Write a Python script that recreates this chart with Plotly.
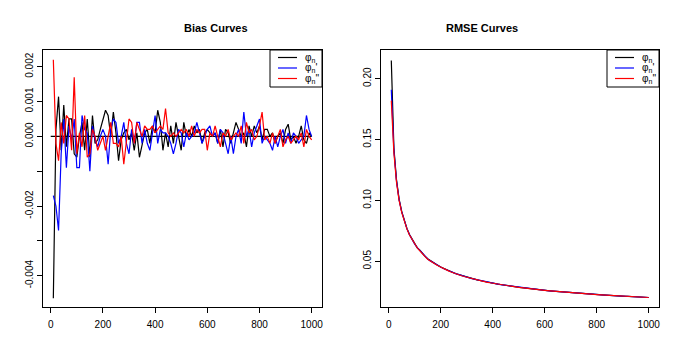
import plotly.graph_objects as go

# Sample sizes (n = 10, 20, ..., 1000)
n_vals = list(range(10, 1001, 10))

# Bias of the three estimators
bias_phi = [
    -0.00465, 0.0002, 0.00114, -0.0004, 0.0009, -0.0003, 0.0005, 0.0005, -0.0005, -0.0006,
    0.0000, 0.0004, -0.0004, 0.0005, -0.0006, 0.0006, -0.0002, -0.0001, 0.0002, 0.0005,
    0.00075, 0.0006, 0.0000, 0.0007, 0.0001, -0.0007, -0.0001, 0.0001, 0.0002, -0.0001,
    0.0001, -0.0004, 0.0001, -0.0006, -0.0002, 0.0001, 0.0002, -0.0002, 0.0003, 0.0001,
    0.00075, 0.0004, -0.0004, 0.0001, -0.0003, 0.0003, -0.0002, 0.0004, 0.0000, -0.0004,
    0.0004, 0.0000, 0.0002, 0.0000, 0.0003, 0.0001, 0.0002, -0.0002, 0.0001, 0.0002,
    0.0001, 0.0000, 0.0001, -0.0002, 0.0002, -0.0003, 0.0002, 0.0001, -0.0002, 0.0001,
    0.0004, 0.0002, 0.0000, 0.0001, -0.0003, 0.0003, 0.0000, 0.0003, 0.0001, 0.0003,
    -0.0001, 0.0002, 0.0002, 0.0000, 0.0001, -0.0002, 0.0000, 0.0001, -0.0002, 0.0002,
    0.00035, -0.0001, 0.0000, -0.0002, 0.0000, 0.0003, -0.0001, -0.0002, 0.0001, 0.0000,
]
bias_phi1 = [
    -0.0017, -0.0020, -0.0027, -0.0005, 0.0005, -0.0009, 0.0003, -0.0001, 0.0005, -0.0009,
    -0.0009, 0.0006, 0.0002, 0.0001, -0.0010, 0.0003, -0.0001, -0.0003, 0.0000, 0.0002,
    0.0000, -0.0008, 0.0002, 0.0005, 0.0004, -0.0002, 0.0000, 0.0004, -0.0002, -0.0005,
    0.0002, -0.0002, 0.0004, 0.0004, -0.0002, 0.0002, -0.0002, -0.0004, 0.0001, 0.0006,
    -0.0002, 0.0002, 0.0001, 0.0001, 0.0000, -0.0002, -0.0005, -0.0002, 0.0002, 0.0001,
    -0.0003, 0.0001, -0.0001, 0.0000, 0.0001, 0.0004, 0.0001, -0.0002, 0.0000, 0.0002,
    0.0003, 0.0000, 0.0001, -0.0002, 0.0002, 0.0001, -0.0002, -0.0005, 0.0000, -0.0005,
    0.0000, 0.0002, -0.0002, 0.0007, 0.0000, 0.0002, -0.0003, 0.0001, 0.0003, 0.0005,
    -0.0002, 0.0000, -0.0001, -0.0002, -0.0004, 0.0000, -0.0003, 0.0000, 0.0002, -0.0002,
    0.0001, -0.0002, 0.0001, 0.0000, -0.0002, -0.0001, 0.0000, 0.0006, 0.0002, 0.0000,
]
bias_phi2 = [
    0.0022, -0.0002, -0.0007, 0.0004, -0.0002, 0.0006, 0.0005, -0.0004, 0.0017, -0.0005,
    0.0001, -0.0003, 0.0006, -0.0006, -0.0005, 0.0002, 0.0000, -0.0004, -0.0002, 0.0000,
    -0.0004, 0.0000, 0.0004, -0.0002, -0.0002, -0.0003, 0.0000, -0.0008, -0.0001, 0.0005,
    0.0004, -0.0002, 0.0004, 0.0002, 0.0000, 0.0003, 0.0002, 0.0002, 0.0003, 0.0001,
    0.0002, 0.0003, 0.0002, 0.0008, 0.0001, 0.0000, 0.0001, 0.0000, 0.0001, 0.0002,
    0.0001, 0.0002, 0.0000, 0.0003, 0.0000, 0.0002, 0.0001, 0.0002, 0.0002, -0.0004,
    0.0001, 0.0000, 0.0003, 0.0000, -0.0003, 0.0001, 0.0000, 0.0002, -0.0001, 0.0000,
    0.0001, 0.0000, 0.0003, -0.0002, 0.0004, 0.0001, 0.0002, -0.0001, 0.0000, 0.0003,
    0.0007, -0.0001, 0.0000, -0.0002, 0.0001, -0.0002, 0.0000, 0.0002, -0.0003, -0.0001,
    0.0000, -0.0002, -0.0001, 0.0000, -0.0001, 0.0001, -0.0003, 0.0002, 0.0000, -0.0001,
]

# RMSE of the three estimators
rmse_phi = [
    0.2150, 0.1430, 0.1170, 0.1010, 0.0910, 0.0830, 0.0770, 0.0720, 0.0680, 0.0640,
    0.0610, 0.0590, 0.0560, 0.0540, 0.0520, 0.0505, 0.0490, 0.0478, 0.0465, 0.0453,
    0.0442, 0.0432, 0.0422, 0.0413, 0.0405, 0.0397, 0.0390, 0.0383, 0.0376, 0.0370,
    0.0364, 0.0358, 0.0352, 0.0347, 0.0342, 0.0337, 0.0333, 0.0328, 0.0324, 0.0320,
    0.0316, 0.0312, 0.0309, 0.0305, 0.0302, 0.0298, 0.0295, 0.0292, 0.0289, 0.0286,
    0.0283, 0.0281, 0.0278, 0.0275, 0.0273, 0.0270, 0.0268, 0.0266, 0.0264, 0.0261,
    0.0259, 0.0257, 0.0255, 0.0253, 0.0251, 0.0249, 0.0247, 0.0245, 0.0244, 0.0242,
    0.0240, 0.0239, 0.0237, 0.0235, 0.0234, 0.0232, 0.0231, 0.0229, 0.0228, 0.0226,
    0.0225, 0.0224, 0.0222, 0.0221, 0.0220, 0.0218, 0.0217, 0.0216, 0.0215, 0.0213,
    0.0212, 0.0211, 0.0210, 0.0209, 0.0208, 0.0207, 0.0206, 0.0205, 0.0204, 0.0202,
]
rmse_phi1 = [
    0.1910, 0.1410, 0.1160, 0.1005, 0.0905, 0.0828, 0.0768, 0.0718, 0.0678, 0.0641,
    0.0612, 0.0588, 0.0562, 0.0541, 0.0519, 0.0503, 0.0489, 0.0476, 0.0464, 0.0452,
    0.0441, 0.0431, 0.0423, 0.0413, 0.0404, 0.0396, 0.0390, 0.0382, 0.0376, 0.0369,
    0.0363, 0.0357, 0.0352, 0.0347, 0.0341, 0.0337, 0.0332, 0.0328, 0.0323, 0.0320,
    0.0316, 0.0312, 0.0308, 0.0305, 0.0301, 0.0298, 0.0295, 0.0292, 0.0289, 0.0286,
    0.0283, 0.0280, 0.0278, 0.0275, 0.0272, 0.0270, 0.0268, 0.0265, 0.0263, 0.0261,
    0.0259, 0.0257, 0.0255, 0.0253, 0.0251, 0.0249, 0.0247, 0.0245, 0.0243, 0.0242,
    0.0240, 0.0238, 0.0237, 0.0235, 0.0234, 0.0232, 0.0230, 0.0229, 0.0228, 0.0226,
    0.0225, 0.0223, 0.0222, 0.0221, 0.0219, 0.0218, 0.0217, 0.0216, 0.0214, 0.0213,
    0.0212, 0.0211, 0.0210, 0.0209, 0.0208, 0.0207, 0.0206, 0.0205, 0.0204, 0.0202,
]
rmse_phi2 = [
    0.1820, 0.1390, 0.1150, 0.1000, 0.0902, 0.0825, 0.0766, 0.0716, 0.0676, 0.0638,
    0.0609, 0.0585, 0.0559, 0.0538, 0.0517, 0.0501, 0.0487, 0.0475, 0.0463, 0.0451,
    0.0440, 0.0430, 0.0421, 0.0412, 0.0403, 0.0395, 0.0388, 0.0381, 0.0375, 0.0369,
    0.0363, 0.0357, 0.0351, 0.0346, 0.0341, 0.0336, 0.0332, 0.0327, 0.0323, 0.0319,
    0.0315, 0.0312, 0.0308, 0.0304, 0.0301, 0.0298, 0.0294, 0.0291, 0.0288, 0.0285,
    0.0283, 0.0280, 0.0277, 0.0275, 0.0272, 0.0270, 0.0267, 0.0265, 0.0263, 0.0261,
    0.0259, 0.0257, 0.0255, 0.0253, 0.0250, 0.0249, 0.0247, 0.0245, 0.0243, 0.0241,
    0.0240, 0.0238, 0.0236, 0.0235, 0.0233, 0.0232, 0.0230, 0.0229, 0.0227, 0.0226,
    0.0225, 0.0223, 0.0222, 0.0220, 0.0219, 0.0218, 0.0217, 0.0215, 0.0214, 0.0213,
    0.0212, 0.0211, 0.0210, 0.0209, 0.0208, 0.0207, 0.0206, 0.0205, 0.0204, 0.0202,
]

# Reference line at zero bias
zero_x = [0, 1000]
zero_y = [0, 0]

names = ["φ<sub>n</sub>", "φ<sub>n</sub>'", "φ<sub>n</sub>''"]
colors = ["black", "blue", "red"]

bias_ticks = [0.002, 0.001, 0.0, -0.001, -0.002, -0.003, -0.004]
bias_ticktext = ["0.002", "0.001", "0.000", "", "-0.002", "", "-0.004"]
rmse_ticks = [0.05, 0.10, 0.15, 0.20]
rmse_ticktext = ["0.05", "0.10", "0.15", "0.20"]
x_ticks = [0, 200, 400, 600, 800, 1000]

W, H = 689, 346
OFF = 8  # page body margin in the browser
FAM = "Liberation Sans, Arial, sans-serif"
font = dict(family=FAM, size=10, color="black")


def px(x):
    return (x - OFF) / W


def py(y):
    return 1 - (y - OFF) / H


fig = go.Figure()

fig.add_trace(go.Scatter(x=zero_x, y=zero_y, mode="lines", line=dict(color="black", width=1.2),
                         showlegend=False, xaxis="x", yaxis="y"))
for vals, col in zip([bias_phi, bias_phi1, bias_phi2], colors):
    fig.add_trace(go.Scatter(x=n_vals, y=vals, mode="lines", showlegend=False,
                             line=dict(color=col, width=1.2), xaxis="x", yaxis="y"))
for vals, col in zip([rmse_phi, rmse_phi1, rmse_phi2], colors):
    fig.add_trace(go.Scatter(x=n_vals, y=vals, mode="lines", showlegend=False,
                             line=dict(color=col, width=1.2), xaxis="x2", yaxis="y2"))

axis_common = dict(showline=True, mirror=True, linecolor="black", linewidth=1,
                   ticks="outside", ticklen=5, tickcolor="black", showgrid=False,
                   zeroline=False, tickfont=font)

shapes = []
annotations = [
    dict(text="<b>Bias Curves</b>", x=px(182), y=py(28), xref="paper", yref="paper",
         yanchor="middle", showarrow=False, font=dict(family=FAM, size=11)),
    dict(text="<b>RMSE Curves</b>", x=px(520), y=py(28), xref="paper", yref="paper",
         yanchor="middle", showarrow=False, font=dict(family=FAM, size=11)),
]

# Hand-made compact legend boxes (R style), top-right of each panel
for box_l, box_r in [(270, 322), (607, 659)]:
    shapes.append(dict(type="rect", xref="paper", yref="paper",
                       x0=px(box_l), x1=px(box_r), y0=py(50), y1=py(87),
                       line=dict(color="black", width=1), fillcolor="white", layer="above"))
    for i, (name, col) in enumerate(zip(names, colors)):
        yy = 57.5 + i * 10.5
        shapes.append(dict(type="line", xref="paper", yref="paper",
                           x0=px(box_l + 8), x1=px(box_r - 25), y0=py(yy), y1=py(yy),
                           line=dict(color=col, width=1.2), layer="above"))
        annotations.append(dict(text=name, x=px(box_l + 33), y=py(yy), xref="paper",
                                yref="paper", xanchor="left", yanchor="middle",
                                showarrow=False, font=dict(family=FAM, size=10, color="black")))

fig.update_layout(
    width=W, height=H,
    margin=dict(l=0, r=0, t=0, b=0),
    paper_bgcolor="white", plot_bgcolor="white",
    font=font,
    showlegend=False,
    xaxis=dict(domain=[px(43), px(322)], range=[-29.6, 1039.6], tickvals=x_ticks,
               anchor="y", ticklabelstandoff=3, **axis_common),
    yaxis=dict(domain=[py(307), py(50)], range=[-0.0049, 0.00248], tickvals=bias_ticks,
               ticktext=bias_ticktext, tickangle=-90, anchor="x", **axis_common),
    xaxis2=dict(domain=[px(381), px(659)], range=[-29.6, 1039.6], tickvals=x_ticks,
                anchor="y2", ticklabelstandoff=3, **axis_common),
    yaxis2=dict(domain=[py(307), py(50)], range=[0.0124, 0.2236], tickvals=rmse_ticks,
                ticktext=rmse_ticktext, tickangle=-90, anchor="x2", **axis_common),
    shapes=shapes,
    annotations=annotations,
)

fig.write_html("out.html")
